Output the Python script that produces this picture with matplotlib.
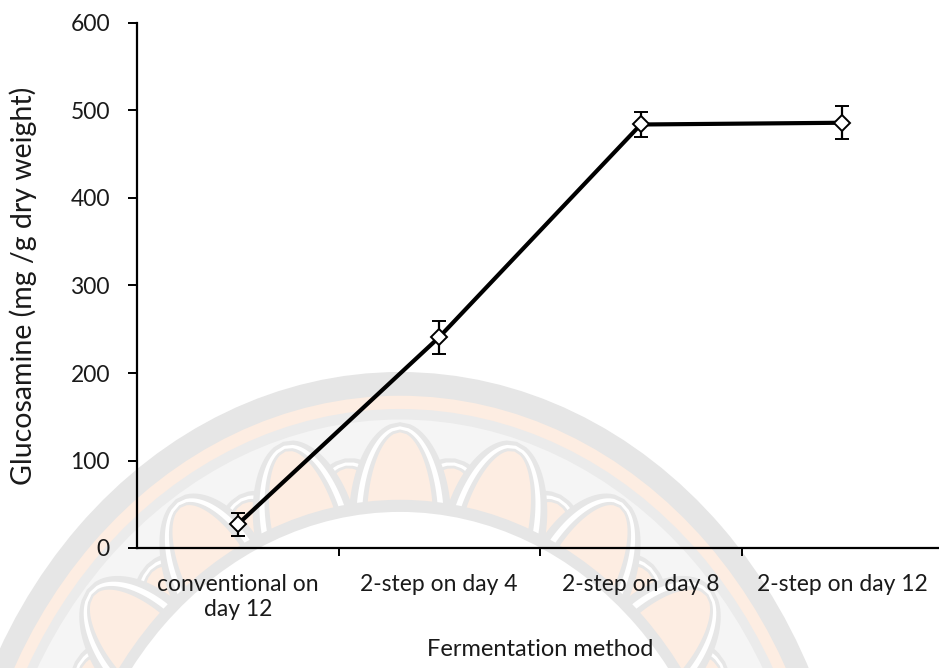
import matplotlib
matplotlib.use("Agg")
import matplotlib.pyplot as plt
from matplotlib.patches import Ellipse, Polygon
import numpy as np

plt.rcParams['font.family'] = ['Lato', 'DejaVu Sans']

methods = ["conventional on\nday 12", "2-step on day 4", "2-step on day 8", "2-step on day 12"]
glucosamine = [27, 241, 484, 486]
sd = [13, 19, 14, 19]

W, H = 939, 668
fig = plt.figure(figsize=(W / 100, H / 100), dpi=100)

# faint lotus seal behind the plot (pixel coordinates)
bg = fig.add_axes([0, 0, 1, 1], zorder=0)
bg.set_xlim(0, W)
bg.set_ylim(H, 0)
bg.axis('off')
cx, cy, a, b = 400, 900, 455, 528
grey, peach, pale = '#e6e6e6', '#fdede2', '#f5f5f5'
for r, c in [(1.0, grey), (0.955, peach), (0.93, '#ebebeb'), (0.91, pale)]:
    bg.add_patch(Ellipse((cx, cy), 2 * a * r, 2 * b * r, color=c, lw=0))


def petal(phi0, r0, r1, half):
    t = np.linspace(0, 1, 50)
    w = half * np.sqrt(1 - t ** 2.2) * (1 - 0.25 * t)
    rr = r0 + (r1 - r0) * t
    ang = np.concatenate([phi0 - w, (phi0 + w)[::-1]])
    rad = np.concatenate([rr, rr[::-1]])
    xs = cx + a * rad * np.sin(np.radians(ang))
    ys = cy - b * rad * np.cos(np.radians(ang))
    return np.column_stack([xs, ys])


def lotus(phi0, tip, half):
    # grey outline, white gap, grey line, peach body
    for d, c in [(0.0, grey), (1.3, 'white'), (2.3, grey), (3.2, peach)]:
        bg.add_patch(Polygon(petal(phi0, 0.72, tip - d * 0.006, half - d), color=c, lw=0))


for phi0 in np.arange(-99, 100, 16.5) + 8.25:
    lotus(phi0, 0.845, 9.0)
for phi0 in np.arange(-99, 100, 16.5):
    lotus(phi0, 0.905, 9.0)
bg.add_patch(Ellipse((cx, cy), 2 * a * 0.758, 2 * b * 0.758, color=grey, lw=0))
bg.add_patch(Ellipse((cx, cy), 2 * a * 0.735, 2 * b * 0.735, color='white', lw=0))

ax = fig.add_axes([137 / W, 1 - 548 / H, (943 - 137) / W, (548 - 23) / H], zorder=1)
ax.patch.set_alpha(0)

x = np.arange(len(methods))
ax.errorbar(x, glucosamine, yerr=sd, color='black', lw=3, capsize=5, capthick=1.6,
            elinewidth=1.6, marker='D', markersize=8, markerfacecolor='white',
            markeredgecolor='black', markeredgewidth=1.4, zorder=3)

ax.set_xlim(-0.5, 3.5)
ax.set_ylim(0, 600)
ax.set_yticks(range(0, 601, 100))
ax.set_xticks(x)
ax.set_xticklabels(methods, fontsize=16.5, color='#1a1a1a')
ax.set_xticks(x[:-1] + 0.5, minor=True)
ax.tick_params(axis='x', which='major', length=0, pad=19)
ax.tick_params(axis='x', which='minor', length=6, width=1.4, direction='out')
ax.tick_params(axis='y', length=6.5, width=1.4, labelsize=16.5, pad=13, labelcolor='#1a1a1a')

for s in ['top', 'right']:
    ax.spines[s].set_visible(False)
for s in ['left', 'bottom']:
    ax.spines[s].set_linewidth(1.6)

ax.set_ylabel("Glucosamine (mg /g dry weight)", fontsize=20.5, labelpad=24, color='#1a1a1a')
ax.set_xlabel("Fermentation method", fontsize=17, labelpad=14, color='#1a1a1a')

fig.savefig("out.png", dpi=100)
